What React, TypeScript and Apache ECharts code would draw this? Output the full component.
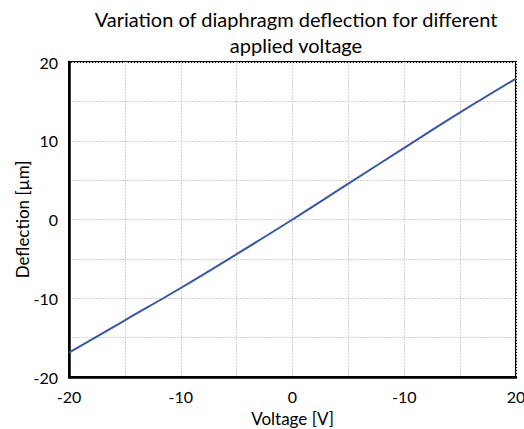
import React, { useEffect, useRef } from "react";
import * as echarts from "echarts";

const titleLines = ["Variation of diaphragm deflection for different", "applied voltage"];
const voltage = [-20, -15, -10, -5, 0, 5, 10, 15, 20];
const deflection = [-16.9, -12.8, -8.7, -4.4, 0, 4.55, 9.1, 13.6, 17.9];
const xTickValues = [-20, -10, 0, 10, 20];
const xTickLabels = ["-20", "-10", "0", "-10", "20"];
const yTickValues = [-20, -10, 0, 10, 20];
const yTickLabels = ["-20", "-10", "0", "10", "20"];

const FONT = "Lato, 'Open Sans', sans-serif";

export default function App() {
  const ref = useRef<HTMLDivElement>(null);
  useEffect(() => {
    document.body.style.margin = "0";
    const chart = echarts.init(ref.current!, null, { renderer: "svg" });
    const labelFor = (vals: number[], labels: string[]) => (v: number) => {
      const i = vals.indexOf(v);
      return i >= 0 ? labels[i] : "";
    };
    chart.setOption({
      animation: false,
      backgroundColor: "#ffffff",
      title: {
        text: titleLines.join("\n"),
        left: 291,
        textAlign: "center",
        top: 1,
        textStyle: {
          fontFamily: FONT,
          fontSize: 20,
          fontWeight: "normal",
          color: "#000",
          lineHeight: 26,
        },
      },
      grid: {
        left: 69,
        right: 8,
        top: 62,
        bottom: 52,
        show: true,
        borderColor: "#000",
        borderWidth: 2,
        containLabel: false,
        outerBoundsMode: "none",
      },
      xAxis: {
        type: "value",
        min: -20,
        max: 20,
        interval: 5,
        name: "Voltage [V]",
        nameLocation: "middle",
        nameGap: 33,
        nameMoveOverlap: false,
        nameTextStyle: { fontFamily: FONT, fontSize: 17, color: "#000" },
        axisLine: { show: true, onZero: false, lineStyle: { color: "#000", width: 2.5 } },
        axisTick: { show: false },
        axisLabel: {
          fontFamily: FONT,
          fontSize: 16,
          color: "#000",
          margin: 11,
          formatter: labelFor(xTickValues, xTickLabels),
        },
        splitLine: { show: true, lineStyle: { color: "#d3d3d3", type: [2, 1], width: 1 } },
      },
      yAxis: {
        type: "value",
        min: -20,
        max: 20,
        interval: 5,
        name: "Deflection [µm]",
        nameLocation: "middle",
        nameGap: 38,
        nameMoveOverlap: false,
        nameTextStyle: { fontFamily: FONT, fontSize: 17, color: "#000" },
        axisLine: { show: true, onZero: false, lineStyle: { color: "#000", width: 2.5 } },
        axisTick: { show: false },
        axisLabel: {
          fontFamily: FONT,
          fontSize: 16,
          color: "#000",
          margin: 11,
          formatter: labelFor(yTickValues, yTickLabels),
        },
        splitLine: { show: true, lineStyle: { color: "#d3d3d3", type: [2, 1], width: 1 } },
      },
      series: [
        {
          type: "line",
          data: voltage.map((v, i) => [v, deflection[i]]),
          showSymbol: false,
          lineStyle: { color: "#3A56A8", width: 2 },
          smooth: 0.4,
        },
      ],
    });
    return () => chart.dispose();
  }, []);
  return <div ref={ref} style={{ width: 524, height: 429 }} />;
}
